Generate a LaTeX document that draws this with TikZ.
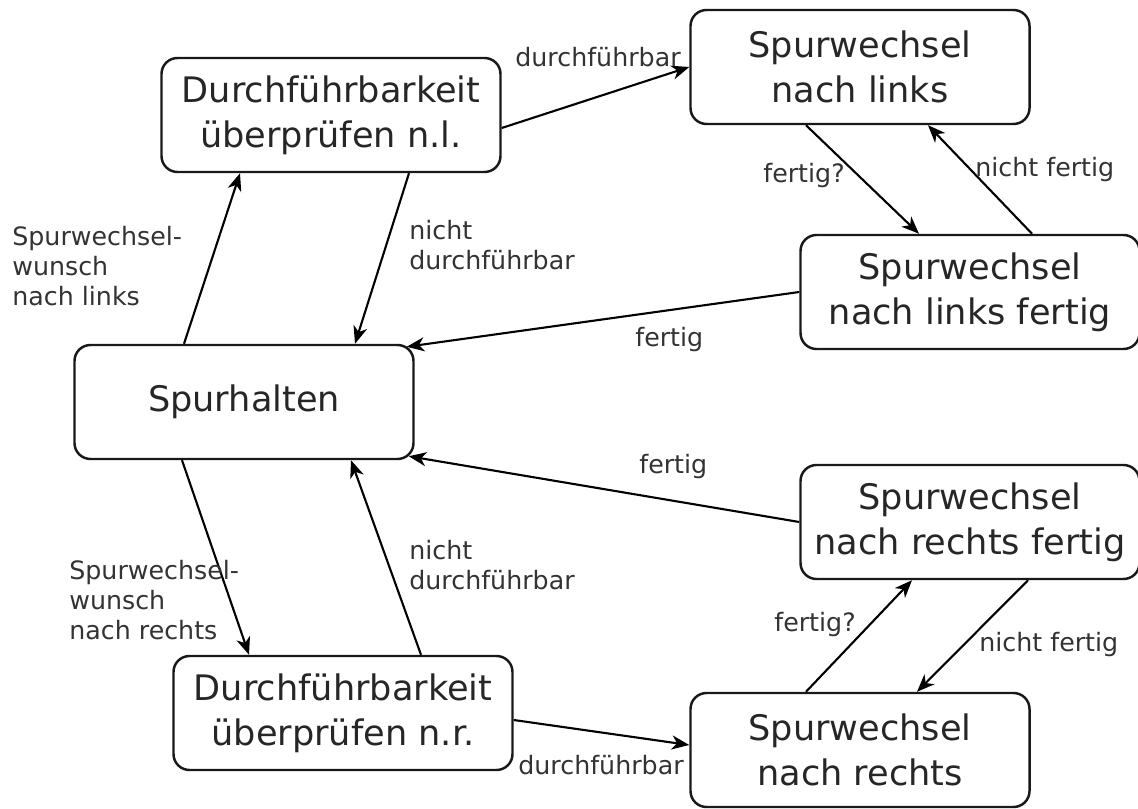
\documentclass[tikz,border=0pt]{standalone}
\usepackage{fontspec}
\setmainfont{DejaVu Sans}
\usetikzlibrary{arrows.meta}

\tikzset{
	state/.style={draw=black!90, line width=1.4pt, rounded corners=0.32cm, align=center,
		minimum width=6.78cm, minimum height=2.28cm, inner sep=2pt, text=black!85,
		font=\fontsize{20}{25.6}\selectfont},
	lbl/.style={inner sep=0pt, align=left, text=black!80, font=\fontsize{14.4}{17}\selectfont},
	trans/.style={line width=1.2pt, -{Stealth[length=10pt,width=8pt,inset=3pt]}}
}

\begin{document}
\begin{tikzpicture}

	\useasboundingbox (0,0) rectangle (22.76,16.16);

	\node[state] (halten) at (4.88,8.12) {Spurhalten};
	\node[state] (pruefl) at (6.62,13.86) {Durchführbarkeit\\überprüfen n.l.};
	\node[state] (pruefr) at (6.86,1.9) {Durchführbarkeit\\überprüfen n.r.};
	\node[state] (links) at (17.2,14.82) {Spurwechsel\\nach links};
	\node[state] (linksf) at (19.4,10.32) {Spurwechsel\\nach links fertig};
	\node[state] (rechtsf) at (19.4,5.72) {Spurwechsel\\nach rechts fertig};
	\node[state] (rechts) at (17.2,1.16) {Spurwechsel\\nach rechts};

	% linke Seite
	\draw[trans] ([xshift=-1.2cm]halten.north) -- ([xshift=-1.82cm]pruefl.south);
	\draw[trans] ([xshift=1.56cm]pruefl.south) -- ([xshift=2.22cm]halten.north);
	\draw[trans] ([xshift=-1.24cm]halten.south) -- ([xshift=-1.88cm]pruefr.north);
	\draw[trans] ([xshift=1.56cm]pruefr.north) -- ([xshift=2.14cm]halten.south);

	% Spurwechsel
	\draw[trans] ([yshift=-0.26cm]pruefl.east) -- (links.west);
	\draw[trans] ([yshift=-0.14cm]pruefr.east) -- ([yshift=0.1cm]rechts.west);
	\draw[trans] ([xshift=-1.08cm]links.south) -- ([xshift=-1.02cm]linksf.north);
	\draw[trans] ([xshift=1.24cm]linksf.north) -- ([xshift=1.36cm]links.south);
	\draw[trans] ([xshift=-1.08cm]rechts.north) -- ([xshift=-1.16cm]rechtsf.south);
	\draw[trans] ([xshift=1.16cm]rechtsf.south) -- ([xshift=1.14cm]rechts.north);

	% zurueck
	\draw[trans] (linksf.west) -- ([xshift=-0.16cm,yshift=-0.06cm]halten.north east);
	\draw[trans] (rechtsf.west) -- ([xshift=-0.12cm,yshift=0.08cm]halten.south east);

	\node[lbl, anchor=west] (dl) at (10.3,15.02) {durchführbar};
	\node[lbl, anchor=west] (dr) at (10.36,0.86) {durchführbar};
	\node[lbl, anchor=north west] (wl) at (0.24,11.64) {Spurwechsel-\\wunsch\\nach links};
	\node[lbl, anchor=north west] (wr) at (1.38,4.96) {Spurwechsel-\\wunsch\\nach rechts};
	\node[lbl, anchor=north west] (nl) at (8.18,11.76) {nicht\\durchführbar};
	\node[lbl, anchor=north west] (nr) at (8.18,5.36) {nicht\\durchführbar};
	\node[lbl, anchor=west] (fql) at (15.26,12.64) {fertig?};
	\node[lbl, anchor=west] (fqr) at (15.48,3.66) {fertig?};
	\node[lbl, anchor=west] (nfl) at (19.5,12.76) {nicht fertig};
	\node[lbl, anchor=west] (nfr) at (19.58,3.26) {nicht fertig};
	\node[lbl, anchor=west] (fl) at (12.7,9.36) {fertig};
	\node[lbl, anchor=west] (fr) at (12.78,6.82) {fertig};
\end{tikzpicture}
\end{document}
